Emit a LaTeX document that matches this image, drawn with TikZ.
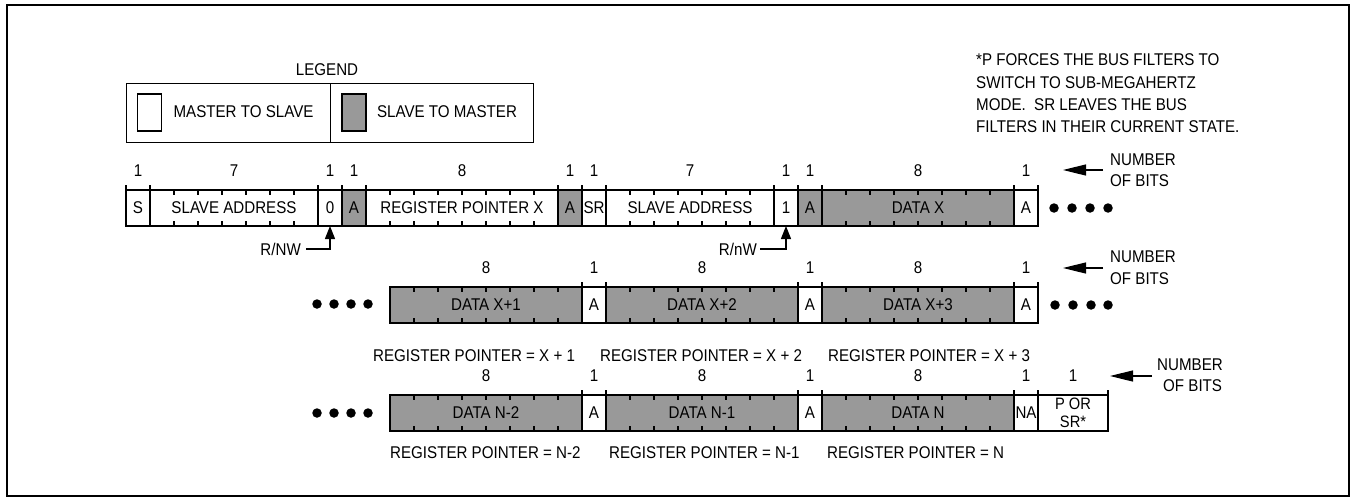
\documentclass[tikz,border=0pt]{standalone}
\usepackage{fontspec}
\setmainfont{Liberation Sans}[FakeStretch=0.89]
\usetikzlibrary{arrows.meta,calc}
\definecolor{sgray}{RGB}{153,153,153}
\newcommand\lblfont{\fontsize{17}{20}\selectfont}
\newcommand\pfont{\fontsize{16.5}{18}\selectfont}
\begin{document}
\begin{tikzpicture}[x=1pt,y=-1pt,
  lbl/.style={font=\lblfont, inner sep=0pt},
  notetxt/.style={font=\lblfont, inner sep=0pt, anchor=west},
  fld/.style={draw, line width=1.3pt, minimum height=36pt, inner sep=0pt, outer sep=0pt, anchor=west, font=\lblfont},
  m2s/.style={fld, fill=white},
  s2m/.style={fld, fill=sgray},
  tick/.style={line width=1.2pt},
  dot/.style={circle, fill=black, inner sep=0pt, minimum size=9.5pt},
  ptr/.style={line width=1.2pt, -{Triangle[length=13pt,width=10pt]}},
  nob/.style={line width=1.2pt, -{Triangle[length=23pt,width=11pt]}},
  keybox/.style={draw, line width=1.2pt, minimum width=24pt, minimum height=37pt, inner sep=0pt},
  legbox/.style={draw, line width=1.3pt, minimum height=59pt, inner sep=0pt, anchor=north west},
]
\useasboundingbox (0,0) rectangle (1351,501);
% outer frame
\draw[line width=2pt] (7,5) rectangle (1349,496);

% legend
\node[lbl] (legtitle) at (327,70) {LEGEND};
\node[legbox, minimum width=204pt] (legl) at (126,83) {};
\node[legbox, minimum width=203pt] (legr) at (330,83) {};
\node[keybox, fill=white] (keyw) at (149.5,112.5) {};
\node[keybox, fill=sgray] (keyg) at (354,112.5) {};
\node[lbl] (legm2s) at (243.5,112) {MASTER TO SLAVE};
\node[lbl] (legs2m) at (447,112) {SLAVE TO MASTER};

% note
\node[notetxt] (note1) at (976,60) {*P FORCES THE BUS FILTERS TO};
\node[notetxt] (note2) at (976,82.5) {SWITCH TO SUB-MEGAHERTZ};
\node[notetxt] (note3) at (976,105) {MODE.\ \ SR LEAVES THE BUS};
\node[notetxt] (note4) at (976,127) {FILTERS IN THEIR CURRENT STATE.};

% row 1
\node[m2s, minimum width=24pt]  (r1s)     at (126,208) {S};
\node[m2s, minimum width=168pt] (r1addr)  at (150,208) {SLAVE ADDRESS};
\node[m2s, minimum width=24pt]  (r1rw)    at (318,208) {0};
\node[s2m, minimum width=24pt]  (r1a1)    at (342,208) {A};
\node[m2s, minimum width=192pt] (r1reg)   at (366,208) {REGISTER POINTER X};
\node[s2m, minimum width=24pt]  (r1a2)    at (558,208) {A};
\node[m2s, minimum width=24pt]  (r1sr)    at (582,208) {SR};
\node[m2s, minimum width=168pt] (r1addr2) at (606,208) {SLAVE ADDRESS};
\node[m2s, minimum width=24pt]  (r1rw2)   at (774,208) {1};
\node[s2m, minimum width=24pt]  (r1a3)    at (798,208) {A};
\node[s2m, minimum width=192pt] (r1data)  at (822,208) {DATA X};
\node[m2s, minimum width=24pt]  (r1a4)    at (1014,208) {A};

% row 2
\node[s2m, minimum width=192pt] (r2d1) at (390,305) {DATA X+1};
\node[m2s, minimum width=24pt]  (r2a1) at (582,305) {A};
\node[s2m, minimum width=192pt] (r2d2) at (606,305) {DATA X+2};
\node[m2s, minimum width=24pt]  (r2a2) at (798,305) {A};
\node[s2m, minimum width=192pt] (r2d3) at (822,305) {DATA X+3};
\node[m2s, minimum width=24pt]  (r2a3) at (1014,305) {A};

% row 3
\node[s2m, minimum width=192pt] (r3d1) at (390,413) {DATA N-2};
\node[m2s, minimum width=24pt]  (r3a1) at (582,413) {A};
\node[s2m, minimum width=192pt] (r3d2) at (606,413) {DATA N-1};
\node[m2s, minimum width=24pt]  (r3a2) at (798,413) {A};
\node[s2m, minimum width=192pt] (r3d3) at (822,413) {DATA N};
\node[m2s, minimum width=24pt]  (r3na) at (1014,413) {NA};
\node[m2s, minimum width=70pt, align=center, font=\pfont] (r3p) at (1038,413) {P OR\\SR*};

% bit ticks
\foreach \n/\b in {r1addr/7,r1reg/8,r1addr2/7,r1data/8,r2d1/8,r2d2/8,r2d3/8,r3d1/8,r3d2/8,r3d3/8}{
  \pgfmathtruncatemacro\m{\b-1}
  \foreach \i in {1,...,\m}{
    \draw[tick] ($(\n.north west)!\i/\b!(\n.north east)$) -- ++(0,5);
    \draw[tick] ($(\n.south west)!\i/\b!(\n.south east)$) -- ++(0,-5);
  }
}
% divider extensions above the rows
\foreach \n in {r1s,r1addr,r1rw,r1a1,r1reg,r1a2,r1sr,r1addr2,r1rw2,r1a3,r1data,r1a4,
                r2a1,r2d2,r2a2,r2d3,r2a3,r3a1,r3d2,r3a2,r3d3,r3na,r3p}{
  \draw[tick] (\n.north west) -- ++(0,-5);
}
\foreach \n in {r1a4,r2a3,r3p}{
  \draw[tick] (\n.north east) -- ++(0,-5);
}

% bit counts
\foreach \n/\b in {r1s/1,r1addr/7,r1rw/1,r1a1/1,r1reg/8,r1a2/1,r1sr/1,r1addr2/7,r1rw2/1,r1a3/1,r1data/8,r1a4/1,
                   r2d1/8,r2a1/1,r2d2/8,r2a2/1,r2d3/8,r2a3/1,
                   r3d1/8,r3a1/1,r3d2/8,r3a2/1,r3d3/8,r3na/1,r3p/1}{
  \node[lbl] (bits-\n) at ($(\n.north)+(0,-19.5)$) {\b};
}

% R/W pointers
\node[lbl, anchor=east] (rnw) at (301,249) {R/NW};
\draw[ptr] (rnw.east) ++(5,0) -| (r1rw.south);
\node[lbl, anchor=east] (rnw2) at (757,249) {R/nW};
\draw[ptr] (rnw2.east) ++(3,0) -| (r1rw2.south);

% continuation dots
\foreach \x [count=\k] in {1054,1072,1090,1108}{ \node[dot] (d1r\k) at (\x,208) {}; }
\foreach \x [count=\k] in {317,334,351,368}{ \node[dot] (d2l\k) at (\x,304) {}; }
\foreach \x [count=\k] in {1055,1073,1091,1108}{ \node[dot] (d2r\k) at (\x,305) {}; }
\foreach \x [count=\k] in {317,334,351,368}{ \node[dot] (d3l\k) at (\x,413) {}; }

% register pointer labels
\node[lbl, anchor=west] (rp1) at (373,356) {REGISTER POINTER = X + 1};
\node[lbl, anchor=west] (rp2) at (600,356) {REGISTER POINTER = X + 2};
\node[lbl, anchor=west] (rp3) at (828,356) {REGISTER POINTER = X + 3};
\node[lbl, anchor=west] (rp4) at (390,453) {REGISTER POINTER = N-2};
\node[lbl, anchor=west] (rp5) at (609,453) {REGISTER POINTER = N-1};
\node[lbl, anchor=west] (rp6) at (827,453) {REGISTER POINTER = N};

% number of bits callouts
\node[lbl, anchor=west] (nb1a) at (1110,160) {NUMBER};
\node[lbl, anchor=west] (nb1b) at (1110,181) {OF BITS};
\coordinate (nb1s) at (1103,170); \coordinate (nb1e) at (1063,170);
\draw[nob] (nb1s) -- (nb1e);
\node[lbl, anchor=west] (nb2a) at (1110,257) {NUMBER};
\node[lbl, anchor=west] (nb2b) at (1110,279) {OF BITS};
\coordinate (nb2s) at (1103,268); \coordinate (nb2e) at (1063,268);
\draw[nob] (nb2s) -- (nb2e);
\node[lbl, anchor=west] (nb3a) at (1157,365) {NUMBER};
\node[lbl, anchor=west] (nb3b) at (1163,386) {OF BITS};
\coordinate (nb3s) at (1152,376); \coordinate (nb3e) at (1110,376);
\draw[nob] (nb3s) -- (nb3e);
\end{tikzpicture}
\end{document}
